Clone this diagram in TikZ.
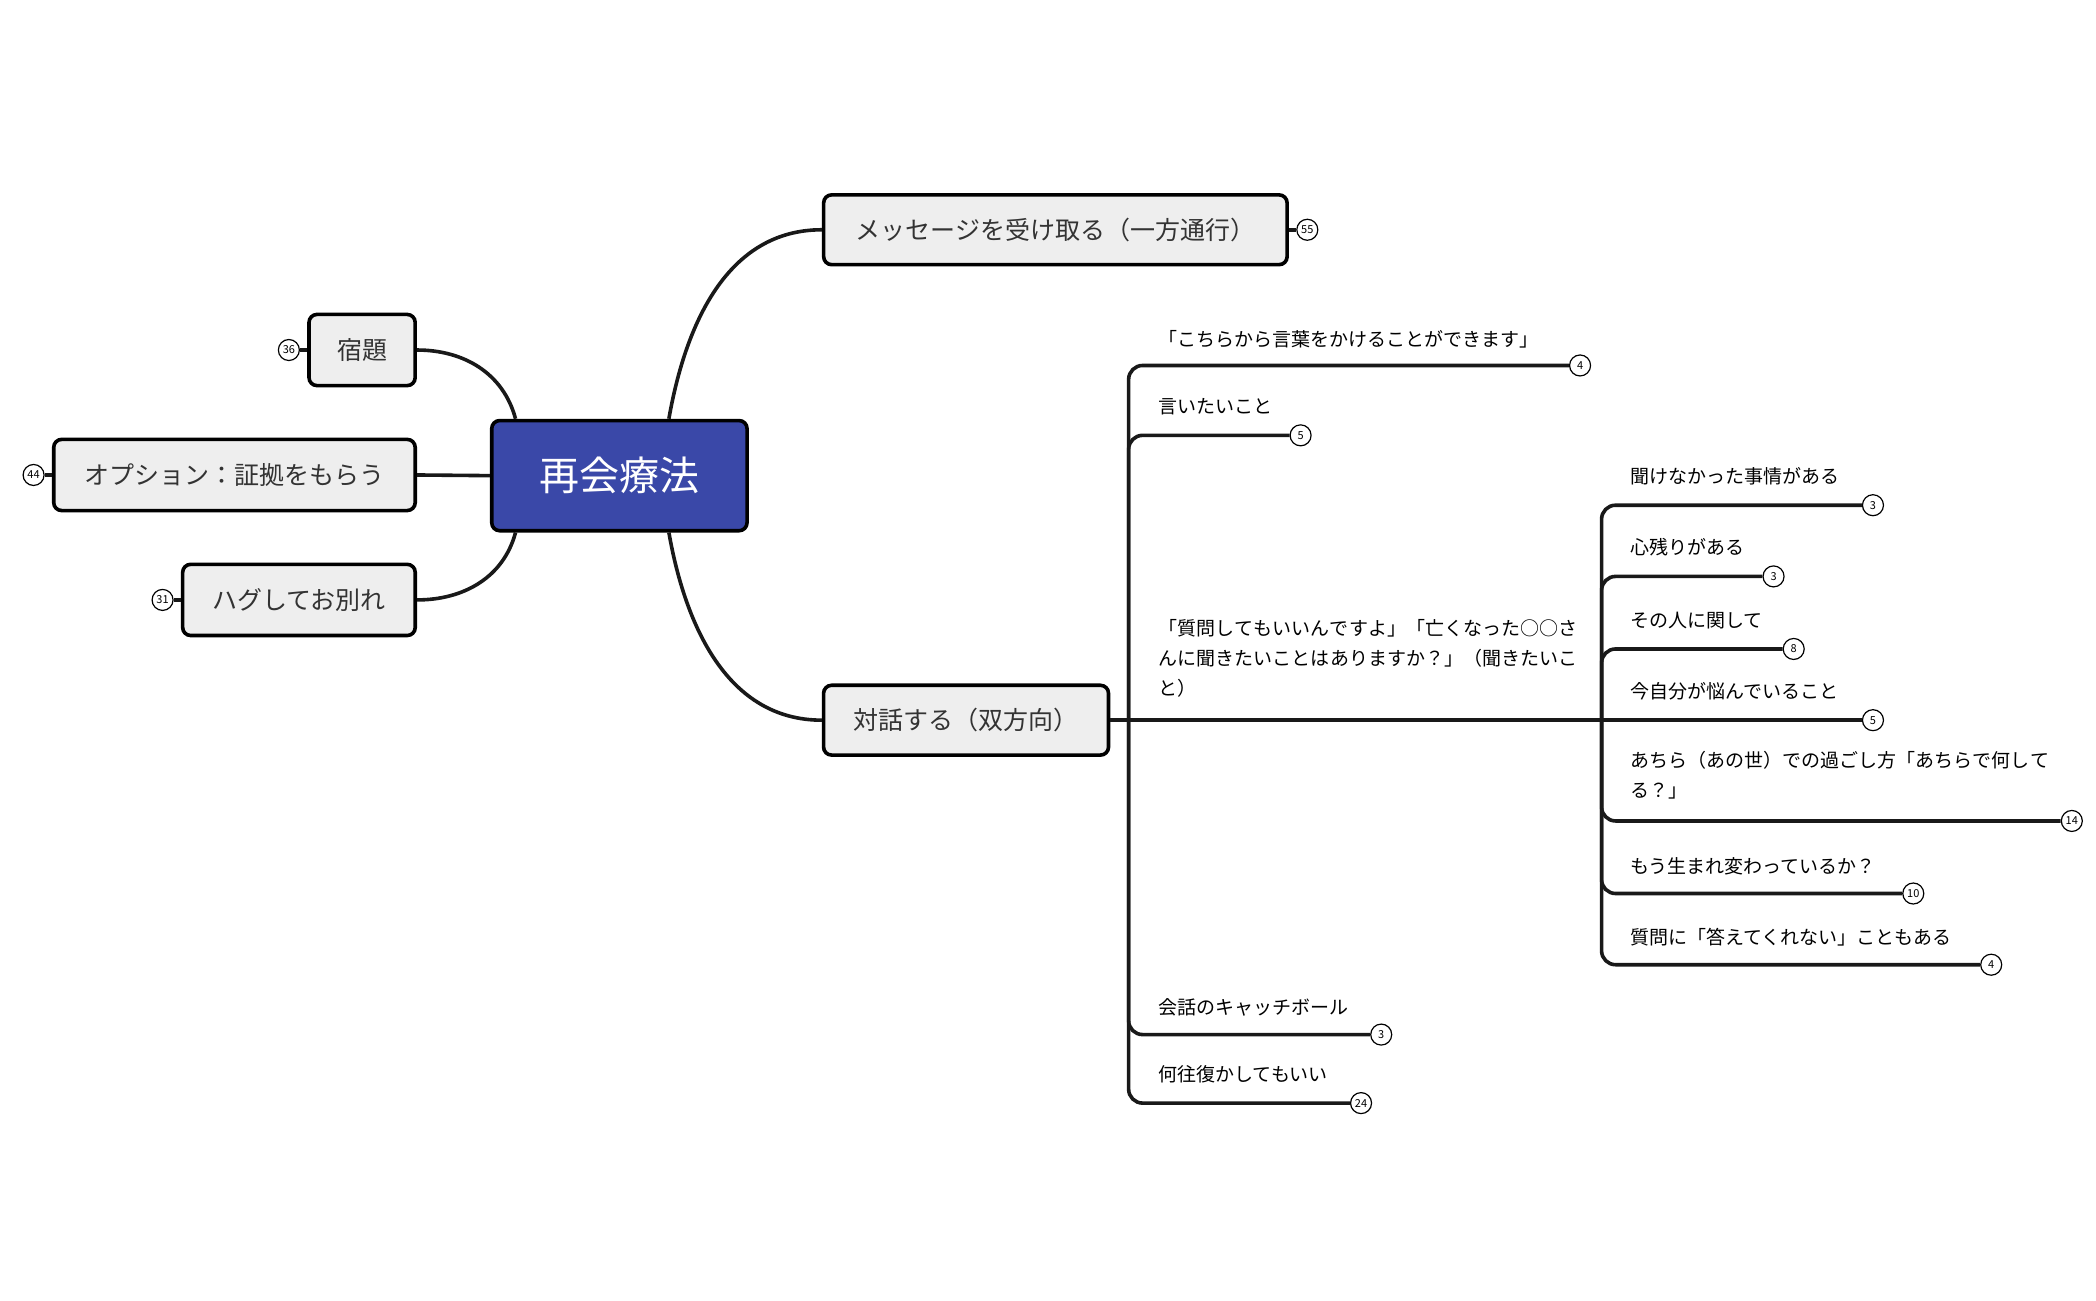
\documentclass[tikz,border=0pt]{standalone}
\usepackage{fontspec}
\setmainfont{Noto Sans CJK JP}
\XeTeXlinebreaklocale "ja"
\XeTeXlinebreakskip=0pt plus 1pt
\usetikzlibrary{positioning}
\definecolor{boxgray}{RGB}{238, 238, 238}
\definecolor{rootblue}{RGB}{58, 72, 168}
\tikzset{
  topic/.style={rectangle, rounded corners=4pt, fill=boxgray, draw=black, line width=1.8pt, font=\fontsize{12.5}{14}\selectfont, text=black!80},
  root/.style={topic, fill=rootblue, text=white, font=\fontsize{20}{22}\selectfont},
  leaf/.style={anchor=base west, inner sep=0pt, font=\fontsize{9.5}{14.8}\selectfont, align=left},
  leaflong/.style={leaf, anchor=north west, text width=210pt},
  count/.style={circle, draw=black, fill=white, line width=0.6pt, inner sep=0pt, minimum size=10.5pt, font=\fontsize{5.5}{6}\selectfont},
  conn/.style={line width=1.8pt, color=black!90},
  branch/.style={conn, rounded corners=7pt}
}
\begin{document}
\begin{tikzpicture}[x=0.672pt, y=-0.672pt]
\useasboundingbox (0,0) rectangle (1560,967.6);
% main topics
\node (ctr) [root, minimum width=127.7pt, minimum height=55.1pt] at (461, 354) {再会療法};
\node (msg) [topic, minimum width=231.8pt, minimum height=34.9pt] at (785.5, 171) {メッセージを受け取る（一方通行）};
\node (dlg) [topic, minimum width=142.5pt, minimum height=34.9pt] at (719, 536) {対話する（双方向）};
\node (hw) [topic, minimum width=53.1pt, minimum height=35.6pt] at (269.5, 260.5) {宿題};
\node (opt) [topic, minimum width=180.8pt, minimum height=35.6pt] at (174.5, 353.5) {オプション：証拠をもらう};
\node (hug) [topic, minimum width=116.3pt, minimum height=35.6pt] at (222.5, 446.5) {ハグしてお別れ};
\node (n55) [count] at (973, 171) {55};
\node (n36) [count] at (215, 260.5) {36};
\node (n44) [count] at (25, 353.5) {44};
\node (n31) [count] at (121, 446.5) {31};
\draw [conn] (msg) -- (n55);
\draw [conn] (hw) -- (n36);
\draw [conn] (opt) -- (n44);
\draw [conn] (hug) -- (n31);
\draw [conn] ([xshift=12.8pt]ctr.north west) to [out=105, in=0] (hw.east);
\draw [conn] ([xshift=-40pt]ctr.north east) to [out=80, in=180] (msg.west);
\draw [conn] ([xshift=-40pt]ctr.south east) to [out=-80, in=180] (dlg.west);
\draw [conn] ([xshift=12.8pt]ctr.south west) to [out=-105, in=0] (hug.east);
\draw [conn] (ctr.west) -- (opt.east);
% dialogue branch
\coordinate (j1) at (840, 536);
\coordinate (j2) at (1192, 536);
\node (a4) [count] at (1176, 272) {4};
\node (a5) [count] at (968, 324) {5};
\node (a3) [count] at (1028, 770) {3};
\node (a24) [count] at (1013, 821) {24};
\node (ta4) [leaf] at (862, 258) {「こちらから言葉をかけることができます」};
\node (ta5) [leaf] at (862, 308) {言いたいこと};
\node (tq) [leaflong] at (862, 461) {「質問してもいいんですよ」「亡くなった○○さんに聞きたいことはありますか？」（聞きたいこと）};
\node (ta3) [leaf] at (862, 755) {会話のキャッチボール};
\node (ta24) [leaf] at (862, 805) {何往復かしてもいい};
\draw [conn] (dlg.east) -- (j2);
\draw [branch] (j1) |- (a4);
\draw [branch] (j1) |- (a5);
\draw [branch] (j1) |- (a3);
\draw [branch] (j1) |- (a24);
% questions
\node (b3) [count] at (1394, 376) {3};
\node (c3) [count] at (1320, 429) {3};
\node (b8) [count] at (1335, 483) {8};
\node (b5) [count] at (1394, 536) {5};
\node (b14) [count] at (1542, 611) {14};
\node (b10) [count] at (1424, 665) {10};
\node (b4) [count] at (1482, 718) {4};
\node (tb3) [leaf] at (1213, 360) {聞けなかった事情がある};
\node (tc3) [leaf] at (1213, 413) {心残りがある};
\node (tb8) [leaf] at (1213, 467) {その人に関して};
\node (tb5) [leaf] at (1213, 520) {今自分が悩んでいること};
\node (tb14) [leaflong] at (1213, 559) {あちら（あの世）での過ごし方「あちらで何してる？」};
\node (tb10) [leaf] at (1213, 650) {もう生まれ変わっているか？};
\node (tb4) [leaf] at (1213, 703) {質問に「答えてくれない」こともある};
\foreach \n in {b3, c3, b8, b14, b10, b4}
  \draw [branch] (j2) |- (\n);
\draw [conn] (j2) -- (b5);
\end{tikzpicture}
\end{document}
